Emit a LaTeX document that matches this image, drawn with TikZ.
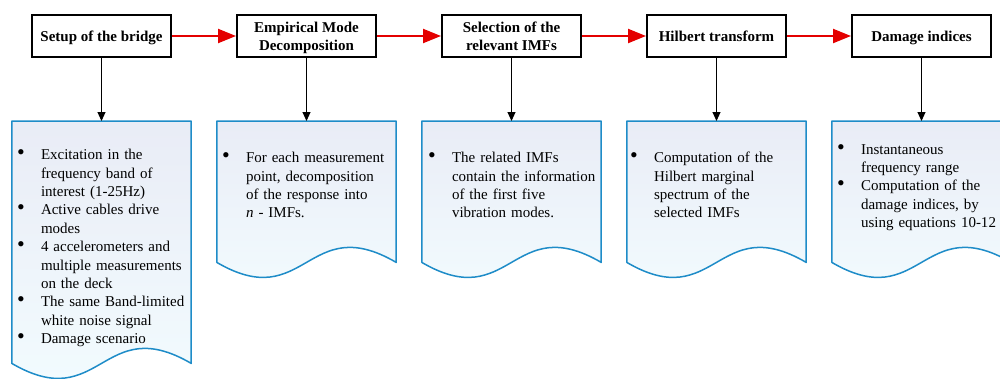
\documentclass[tikz,border=0pt]{standalone}
\usepackage{fontspec}
\setmainfont{Liberation Serif}
\usepackage{tikz}
\usetikzlibrary{arrows.meta}
\usetikzlibrary{positioning}
\usetikzlibrary{shadows}

\definecolor{docblue}{RGB}{30,140,200}
\definecolor{doctop}{RGB}{233,236,246}
\definecolor{docbottom}{RGB}{243,253,255}
\definecolor{flowred}{RGB}{228,0,0}

\newcommand{\docitem}[1]{{\let\\\newline\hangindent=24pt\hangafter=1\noindent
    \makebox[24pt][l]{\fontsize{22}{18}\selectfont\textbullet}#1\par}}

\begin{document}
\begin{tikzpicture}[
                stage/.style={draw, line width=2pt, fill=white, minimum width=139pt,
                        minimum height=42pt, align=center, inner sep=2pt, text depth=0pt,
                        font=\fontsize{15}{18}\selectfont\bfseries,
                        drop shadow={opacity=0.2, shadow xshift=1pt, shadow yshift=-1pt}},
                doc/.style={minimum width=179pt, minimum height=141pt, inner sep=0pt},
                docline/.style={draw=docblue, line width=1.5pt, line join=round,
                        top color=doctop, bottom color=docbottom},
                doctext/.style={text width=174pt, inner sep=0pt, align=left,
                        font=\fontsize{15}{18.4}\selectfont},
                flow/.style={-{Triangle[length=18pt, width=14pt]}, line width=2.2pt, flowred},
                drop/.style={-{Triangle[length=9pt, width=8pt]}, line width=1pt},
            ]
            \useasboundingbox (0,0) rectangle (1000pt,-378pt);

            \node[stage] (setup) at (101.5pt,-36pt) {Setup of the bridge};
            \node[stage, right=64pt of setup] (emd) {Empirical Mode\\Decomposition};
            \node[stage, right=64pt of emd] (select) {Selection of the\\relevant IMFs};
            \node[stage, right=64pt of select] (hilbert) {Hilbert transform};
            \node[stage, right=64pt of hilbert] (damage) {Damage indices};

            \node[doc, below=63pt of setup, minimum height=242pt] (d1) {};
            \node[doc, below=63pt of emd] (d2) {};
            \node[doc, below=63pt of select] (d3) {};
            \node[doc, below=63pt of hilbert] (d4) {};
            \node[doc, below=63pt of damage] (d5) {};

            % document outlines with wavy bottom
            \foreach \d in {d1,d2,d3,d4,d5}
                \draw[docline] (\d.north west) -- (\d.north east) -- (\d.south east)
                    .. controls +(-89pt,52pt) and +(89pt,-52pt) .. (\d.south west) -- cycle;

            \node[doctext, below right=28pt and 5pt of d1.north west] (t1) {%
                \docitem{Excitation in the\\frequency band of\\interest (1-25Hz)}
                \docitem{Active cables drive\\modes}
                \docitem{4 accelerometers and\\multiple measurements\\on the deck}
                \docitem{The same Band-limited\\white noise signal}
                \docitem{Damage scenario}};
            \node[doctext, below right=31pt and 5pt of d2.north west] (t2) {%
                \docitem{For each measurement\\point, decomposition\\of the response into\\\textit{n} - IMFs.}};
            \node[doctext, below right=31pt and 6pt of d3.north west] (t3) {%
                \docitem{The related IMFs\\contain the information\\of the first five\\vibration modes.}};
            \node[doctext, below right=31pt and 3pt of d4.north west] (t4) {%
                \docitem{Computation of the\\Hilbert marginal\\spectrum of the\\selected IMFs}};
            \node[doctext, below right=23pt and 5pt of d5.north west] (t5) {%
                \docitem{Instantaneous\\frequency range}
                \docitem{Computation of the\\damage indices, by\\using equations 10-12}};

            \draw[flow] (setup) -- (emd);
            \draw[flow] (emd) -- (select);
            \draw[flow] (select) -- (hilbert);
            \draw[flow] (hilbert) -- (damage);

            \draw[drop] (setup) -- (d1);
            \draw[drop] (emd) -- (d2);
            \draw[drop] (select) -- (d3);
            \draw[drop] (hilbert) -- (d4);
            \draw[drop] (damage) -- (d5);
        \end{tikzpicture}
\end{document}
